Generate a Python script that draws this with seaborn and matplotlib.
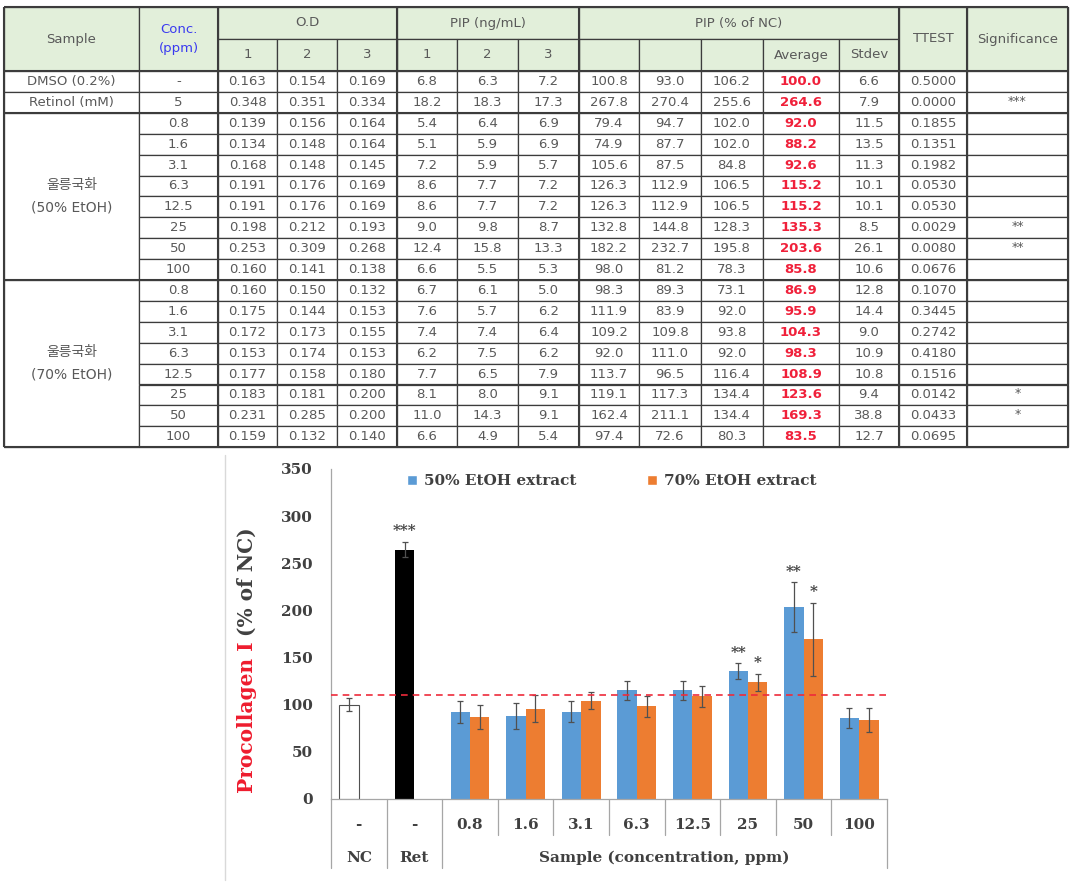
import numpy as np
import pandas as pd
import matplotlib
matplotlib.use("Agg")
import matplotlib.pyplot as plt
import matplotlib.transforms as mtransforms
from matplotlib.patches import Rectangle
from matplotlib.font_manager import FontProperties
import seaborn as sns

# ------------------------------------------------------------------ data
sample_labels = ["DMSO (0.2%)", "Retinol (mM)"]
group_labels = ["울릉국화\n(50% EtOH)", "울릉국화\n(70% EtOH)"]
conc = ["-", "5",
        "0.8", "1.6", "3.1", "6.3", "12.5", "25", "50", "100",
        "0.8", "1.6", "3.1", "6.3", "12.5", "25", "50", "100"]
od1 = [0.163, 0.348, 0.139, 0.134, 0.168, 0.191, 0.191, 0.198, 0.253, 0.160,
       0.160, 0.175, 0.172, 0.153, 0.177, 0.183, 0.231, 0.159]
od2 = [0.154, 0.351, 0.156, 0.148, 0.148, 0.176, 0.176, 0.212, 0.309, 0.141,
       0.150, 0.144, 0.173, 0.174, 0.158, 0.181, 0.285, 0.132]
od3 = [0.169, 0.334, 0.164, 0.164, 0.145, 0.169, 0.169, 0.193, 0.268, 0.138,
       0.132, 0.153, 0.155, 0.153, 0.180, 0.200, 0.200, 0.140]
pip1 = [6.8, 18.2, 5.4, 5.1, 7.2, 8.6, 8.6, 9.0, 12.4, 6.6,
        6.7, 7.6, 7.4, 6.2, 7.7, 8.1, 11.0, 6.6]
pip2 = [6.3, 18.3, 6.4, 5.9, 5.9, 7.7, 7.7, 9.8, 15.8, 5.5,
        6.1, 5.7, 7.4, 7.5, 6.5, 8.0, 14.3, 4.9]
pip3 = [7.2, 17.3, 6.9, 6.9, 5.7, 7.2, 7.2, 8.7, 13.3, 5.3,
        5.0, 6.2, 6.4, 6.2, 7.9, 9.1, 9.1, 5.4]
pct1 = [100.8, 267.8, 79.4, 74.9, 105.6, 126.3, 126.3, 132.8, 182.2, 98.0,
        98.3, 111.9, 109.2, 92.0, 113.7, 119.1, 162.4, 97.4]
pct2 = [93.0, 270.4, 94.7, 87.7, 87.5, 112.9, 112.9, 144.8, 232.7, 81.2,
        89.3, 83.9, 109.8, 111.0, 96.5, 117.3, 211.1, 72.6]
pct3 = [106.2, 255.6, 102.0, 102.0, 84.8, 106.5, 106.5, 128.3, 195.8, 78.3,
        73.1, 92.0, 93.8, 92.0, 116.4, 134.4, 134.4, 80.3]
avg = [100.0, 264.6, 92.0, 88.2, 92.6, 115.2, 115.2, 135.3, 203.6, 85.8,
       86.9, 95.9, 104.3, 98.3, 108.9, 123.6, 169.3, 83.5]
sd = [6.6, 7.9, 11.5, 13.5, 11.3, 10.1, 10.1, 8.5, 26.1, 10.6,
      12.8, 14.4, 9.0, 10.9, 10.8, 9.4, 38.8, 12.7]
ttest = [0.5000, 0.0000, 0.1855, 0.1351, 0.1982, 0.0530, 0.0530, 0.0029, 0.0080, 0.0676,
         0.1070, 0.3445, 0.2742, 0.4180, 0.1516, 0.0142, 0.0433, 0.0695]
sig = ["", "***", "", "", "", "", "", "**", "**", "",
       "", "", "", "", "", "*", "*", ""]

chart_categories = ["-", "-", "0.8", "1.6", "3.1", "6.3", "12.5", "25", "50", "100"]
chart_groups = ["NC", "Ret", "Sample (concentration, ppm)"]
series_names = ["50% EtOH extract", "70% EtOH extract"]
reference_line = 110

# ------------------------------------------------------------------ style
sns.set_style("white")
plt.rcParams["font.family"] = ["DejaVu Serif"]
plt.rcParams["font.weight"] = "bold"

BLUE = "#5b9bd5"
ORANGE = "#ed7d31"
AX_GRAY = "#a6a6a6"
TXT = "#404040"
TFAM = ["DejaVu Sans", "Noto Sans CJK KR"]
TFS = 9.5
LINE = "#3c3c3c"
HFILL = "#e2efda"
TGRAY = "#595959"

W, H = 1076, 883
fig = plt.figure(figsize=(W / 100, H / 100), dpi=100)
ov = fig.add_axes([0, 0, 1, 1])
ov.set_xlim(0, W)
ov.set_ylim(H, 0)
ov.axis("off")

# ------------------------------------------------------------------ table
xb = [4, 139, 218, 277, 337, 397, 457, 518, 579, 639, 701, 763, 839, 899, 967, 1068]
hy = [7, 39, 71]
row_h = 20.9
ry = [71 + i * row_h for i in range(19)]


def cell(x0, x1, y0, y1, text="", color=TGRAY, bold=False, fill="white", fs=TFS, dy=0.0, ls=1.6):
    ov.add_patch(Rectangle((x0, y0), x1 - x0, y1 - y0, facecolor=fill,
                           edgecolor=LINE, lw=0.9))
    if text:
        ov.text((x0 + x1) / 2, (y0 + y1) / 2 + dy, text, ha="center", va="center",
                color=color, fontsize=fs, fontweight="bold" if bold else "normal",
                family=TFAM, linespacing=ls)


# header
cell(xb[0], xb[1], hy[0], hy[2], "Sample", fill=HFILL)
cell(xb[1], xb[2], hy[0], hy[2], "Conc.\n(ppm)", color="#3a3af0", fill=HFILL)
cell(xb[2], xb[5], hy[0], hy[1], "O.D", fill=HFILL)
cell(xb[5], xb[8], hy[0], hy[1], "PIP (ng/mL)", fill=HFILL)
cell(xb[8], xb[13], hy[0], hy[1], "PIP (% of NC)", fill=HFILL)
for k in range(3):
    cell(xb[2 + k], xb[3 + k], hy[1], hy[2], str(k + 1), fill=HFILL)
    cell(xb[5 + k], xb[6 + k], hy[1], hy[2], str(k + 1), fill=HFILL)
    cell(xb[8 + k], xb[9 + k], hy[1], hy[2], "", fill=HFILL)
cell(xb[11], xb[12], hy[1], hy[2], "Average", fill=HFILL)
cell(xb[12], xb[13], hy[1], hy[2], "Stdev", fill=HFILL)
cell(xb[13], xb[14], hy[0], hy[2], "TTEST", fill=HFILL)
cell(xb[14], xb[15], hy[0], hy[2], "Significance", fill=HFILL)

# body
for i in range(18):
    y0, y1 = ry[i], ry[i + 1]
    if i < 2:
        cell(xb[0], xb[1], y0, y1, sample_labels[i])
    elif i in (2, 10):
        g = 0 if i == 2 else 1
        cell(xb[0], xb[1], ry[i], ry[i + 8], group_labels[g], fs=10, ls=1.8)
    vals = [conc[i], f"{od1[i]:.3f}", f"{od2[i]:.3f}", f"{od3[i]:.3f}",
            f"{pip1[i]:.1f}", f"{pip2[i]:.1f}", f"{pip3[i]:.1f}",
            f"{pct1[i]:.1f}", f"{pct2[i]:.1f}", f"{pct3[i]:.1f}"]
    for k, v in enumerate(vals):
        cell(xb[1 + k], xb[2 + k], y0, y1, v)
    cell(xb[11], xb[12], y0, y1, f"{avg[i]:.1f}", color="#f0203a", bold=True)
    cell(xb[12], xb[13], y0, y1, f"{sd[i]:.1f}")
    cell(xb[13], xb[14], y0, y1, f"{ttest[i]:.4f}")
    cell(xb[14], xb[15], y0, y1, sig[i], fs=9, dy=-1)

# heavier group borders
for xv in (xb[0], xb[2], xb[5], xb[8], xb[13], xb[14], xb[15]):
    ov.plot([xv, xv], [hy[0], ry[-1]], color=LINE, lw=1.5, solid_capstyle="butt")
for yv in (hy[0], hy[2], ry[2], ry[10], ry[-1]):
    ov.plot([xb[0], xb[-1]], [yv, yv], color=LINE, lw=1.5, solid_capstyle="butt")

# chart frame line (left)
ov.plot([225, 225], [455, 880], color="#d9d9d9", lw=1)

# ------------------------------------------------------------------ bar chart data
keys = ["NC", "Ret"] + chart_categories[2:]
rows = [dict(key="NC", series=series_names[0], value=avg[0], sd=sd[0], sig=sig[0]),
        dict(key="Ret", series=series_names[0], value=avg[1], sd=sd[1], sig=sig[1])]
for j, c in enumerate(chart_categories[2:]):
    rows.append(dict(key=c, series=series_names[0], value=avg[2 + j], sd=sd[2 + j], sig=sig[2 + j]))
    rows.append(dict(key=c, series=series_names[1], value=avg[10 + j], sd=sd[10 + j], sig=sig[10 + j]))
df = pd.DataFrame(rows)

ax_bottom, ax_top, ax_left, ax_right = 799, 469, 331, 887
ax = fig.add_axes([ax_left / W, 1 - ax_bottom / H, (ax_right - ax_left) / W, (ax_bottom - ax_top) / H])
sns.barplot(data=df, x="key", y="value", hue="series", order=keys, hue_order=series_names,
            palette=[BLUE, ORANGE], width=0.7, errorbar=None, saturation=1,
            legend=False, dodge=True, ax=ax)

for p in list(ax.patches):
    xc = p.get_x() + p.get_width() / 2
    ci = int(round(xc))
    si = 0 if xc < ci else 1
    key = keys[ci]
    m = df[(df.key == key) & (df.series == series_names[si])]
    if m.empty:
        continue
    r = m.iloc[0]
    p.set_linewidth(0)
    if key == "NC":
        p.set_facecolor("white")
        p.set_edgecolor("#505050")
        p.set_linewidth(0.8)
    elif key == "Ret":
        p.set_facecolor("black")
    ax.errorbar(xc, r.value, yerr=r.sd, fmt="none", ecolor="#505050",
                elinewidth=0.9, capsize=2.5, capthick=0.9, zorder=5)
    if r.sig:
        ax.text(xc, r.value + r.sd + 4, r.sig, ha="center", va="bottom",
                fontsize=11, fontweight="bold", color=TXT)

ax.axhline(reference_line, color="#ee2b3b", lw=1.2, ls=(0, (4, 3)), zorder=6)

ax.set_xlim(-0.5, 9.5)
ax.set_ylim(0, 350)
ax.set_yticks(range(0, 351, 50))
ax.set_xticks([])
ax.set_xlabel("")
ax.set_ylabel("")
for s in ("top", "right"):
    ax.spines[s].set_visible(False)
for s in ("left", "bottom"):
    ax.spines[s].set_color(AX_GRAY)
    ax.spines[s].set_linewidth(0.9)
ax.tick_params(axis="y", direction="in", length=4, width=0.8, color=AX_GRAY,
               pad=13, labelsize=11, labelcolor=TXT)
for t in ax.get_yticklabels():
    t.set_fontweight("bold")
    t.set_family("DejaVu Serif")

# multi-level category axis
axh = ax_bottom - ax_top
trans = mtransforms.blended_transform_factory(ax.transData, ax.transAxes)
for i, lab in enumerate(chart_categories):
    ax.text(i, -26 / axh, lab, transform=trans, ha="center", va="center",
            fontsize=11, fontweight="bold", color=TXT, clip_on=False)
ax.text(0, -59 / axh, chart_groups[0], transform=trans, ha="center", va="center",
        fontsize=11, fontweight="bold", color=TXT, clip_on=False)
ax.text(1, -59 / axh, chart_groups[1], transform=trans, ha="center", va="center",
        fontsize=11, fontweight="bold", color=TXT, clip_on=False)
ax.text(5.5, -59 / axh, chart_groups[2], transform=trans, ha="center", va="center",
        fontsize=11, fontweight="bold", color=TXT, clip_on=False)
for k in range(3, 10):
    ax.plot([k - 0.5, k - 0.5], [0, -36 / axh], transform=trans, color=AX_GRAY,
            lw=0.9, clip_on=False)
for xv in (-0.5, 0.5, 1.5, 9.5):
    ax.plot([xv, xv], [0, -69 / axh], transform=trans, color=AX_GRAY,
            lw=0.9, clip_on=False)

# legend
handles = [Rectangle((0, 0), 1, 1, facecolor=BLUE), Rectangle((0, 0), 1, 1, facecolor=ORANGE)]
ax.legend(handles, series_names, loc="center", bbox_to_anchor=(0.505, (ax_bottom - 481) / axh),
          ncol=2, frameon=False, prop=FontProperties(family="DejaVu Serif", weight="bold", size=11),
          handlelength=0.65, handleheight=0.65, handletextpad=0.45, columnspacing=4.6,
          labelcolor=TXT)

# y-axis title in two colours
t1 = ov.text(247, 793, "Procollagen I", rotation=90, ha="center", va="bottom",
             fontsize=14.5, fontweight="bold", color="#ee1c2e", family="DejaVu Serif")
fig.canvas.draw()
bb = t1.get_window_extent(fig.canvas.get_renderer())
top_y = H - bb.y1
ov.text(247, top_y - 6, "(% of NC)", rotation=90, ha="center", va="bottom",
        fontsize=14.5, fontweight="bold", color=TXT, family="DejaVu Serif")

fig.savefig("out.png", dpi=100)
